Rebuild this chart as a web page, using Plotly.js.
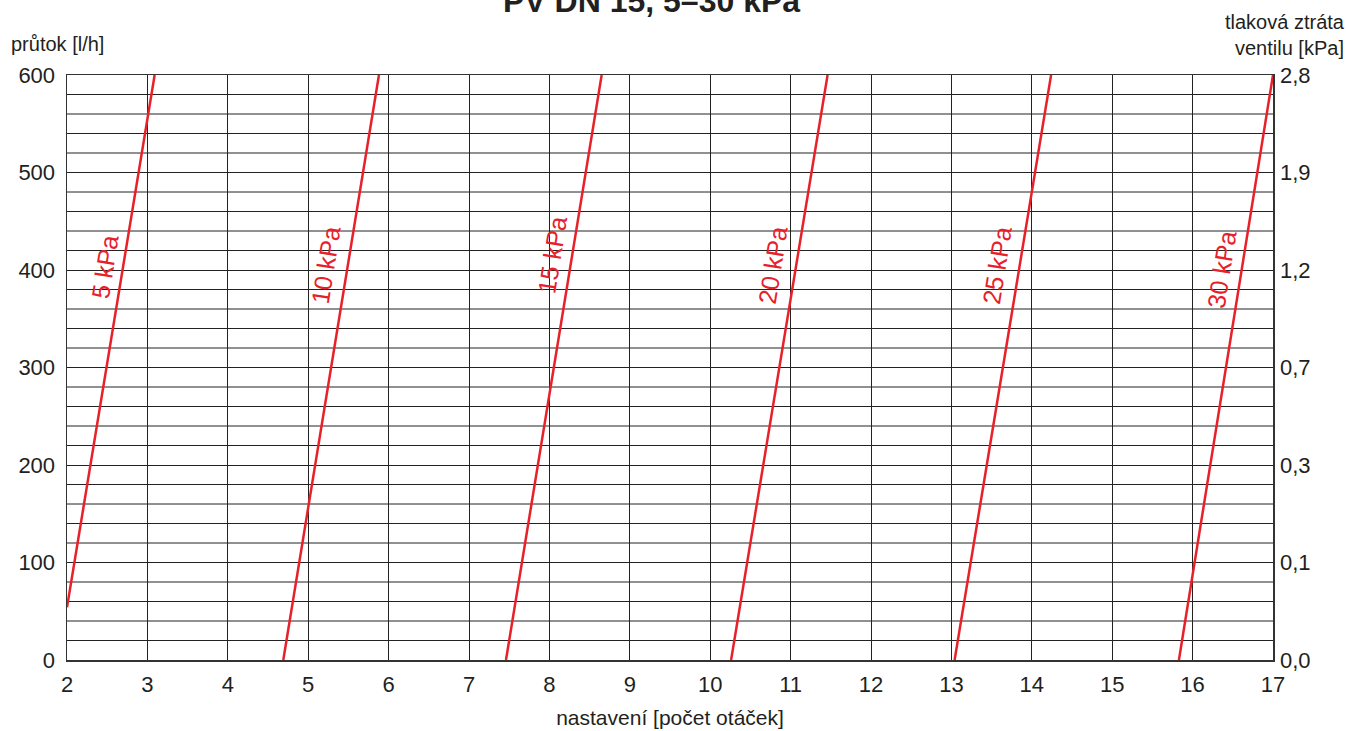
<!DOCTYPE html>
<html><head><meta charset="utf-8">
<script src="https://cdn.plot.ly/plotly-3.0.1.min.js"></script>
<style>html,body{margin:0;padding:0;background:#fff}#chart{width:1346px;height:731px}</style>
</head><body><div id="chart"></div>
<script>
// Data
const pressureLabels = ["5 kPa","10 kPa","15 kPa","20 kPa","25 kPa","30 kPa"];
const setting5 = [2.0, 3.09];   const flow5 = [54, 600];
const setting10 = [4.69, 5.88]; const flow10 = [0, 600];
const setting15 = [7.46, 8.65]; const flow15 = [0, 600];
const setting20 = [10.26, 11.46]; const flow20 = [0, 600];
const setting25 = [13.04, 14.24]; const flow25 = [0, 600];
const setting30 = [15.83, 17.0]; const flow30 = [0, 600];
const labelX = [2.47, 5.22, 8.04, 10.78, 13.57, 16.36];
const labelY = [403, 405, 415, 405, 405, 400];
const leftTicks = [0,100,200,300,400,500,600];
const rightTickText = ["0,0","0,1","0,3","0,7","1,2","1,9","2,8"];
const xTicks = [2,3,4,5,6,7,8,9,10,11,12,13,14,15,16,17];

const red = '#e8202a';
const ink = '#231f20';
const font = 'Liberation Sans, Arial, Helvetica, sans-serif';

const series = [[setting5,flow5],[setting10,flow10],[setting15,flow15],[setting20,flow20],[setting25,flow25],[setting30,flow30]];
const traces = series.map((s,i)=>({x:s[0], y:s[1], type:'scatter', mode:'lines', line:{color:red,width:2.5}, name:pressureLabels[i], hoverinfo:'skip', cliponaxis:false}));
traces.push({x:[2,17], y:[0,600], yaxis:'y2', mode:'lines', line:{width:0}, showlegend:false, hoverinfo:'skip'});

const annotations = pressureLabels.map((t,i)=>({x:labelX[i], y:labelY[i], xref:'x', yref:'y', text:t, showarrow:false, textangle:-81, font:{family:font,size:25,color:red}}));
annotations.push({xref:'paper', yref:'paper', x:0.485, y:1.126, text:'<b>PV DN 15, 5–30 kPa</b>', showarrow:false, font:{family:font,size:32,color:ink}, xanchor:'center', yanchor:'middle'});
annotations.push({xref:'paper', yref:'paper', x:-0.048, y:1.053, text:'průtok [l/h]', showarrow:false, font:{family:font,size:20,color:ink}, xanchor:'left', yanchor:'middle'});
annotations.push({xref:'paper', yref:'paper', x:1.061, y:1.069, text:'tlaková ztráta<br>ventilu [kPa]', showarrow:false, align:'right', font:{family:font,size:20,color:ink}, xanchor:'right', yanchor:'middle'});

const layout = {
  width:1346, height:731,
  margin:{l:67, r:73, t:75, b:71},
  paper_bgcolor:'#fff', plot_bgcolor:'#fff',
  showlegend:false,
  font:{family:font, color:ink, size:22},
  xaxis:{range:[2,17], tickvals:xTicks, ticks:'', showgrid:true, gridcolor:'#222', gridwidth:1, zeroline:false,
    showline:true, linecolor:'#333', linewidth:1.5, mirror:true, tickfont:{size:22,color:ink}, ticklabelstandoff:4,
    title:{text:'nastavení [počet otáček]', font:{size:21,color:ink}, standoff:14}},
  yaxis:{range:[0,600], tickvals:leftTicks, ticks:'', showgrid:true, gridcolor:'#222', gridwidth:1, zeroline:false,
    showline:true, linecolor:'#333', linewidth:1.5, mirror:true, tickfont:{size:22,color:ink}, ticklabelstandoff:6},
  yaxis2:{range:[0,600], overlaying:'y', side:'right', tickvals:leftTicks, ticktext:rightTickText, showgrid:false, zeroline:false, ticks:'', tickfont:{size:22,color:ink}, ticklabelstandoff:6},
  annotations:annotations,
  shapes: (function(){ const s=[]; for(let v=20; v<600; v+=20){ if(v%100!==0) s.push({type:'line', xref:'paper', yref:'y', x0:0, x1:1, y0:v, y1:v, line:{color:'#222', width:1}, layer:'below'});} return s; })()
};
Plotly.newPlot('chart', traces, layout, {staticPlot:true, displayModeBar:false});
</script></body></html>
